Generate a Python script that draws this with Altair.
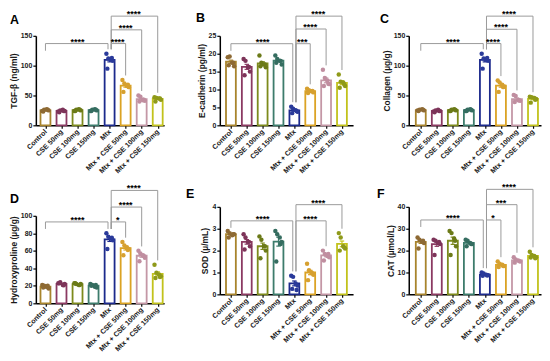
import altair as alt
import numpy as np
import pandas as pd

categories = ["Control", "CSE 50mg", "CSE 100mg", "CSE 150mg", "Mtx",
              "Mtx + CSE 50mg", "Mtx + CSE 100mg", "Mtx + CSE 150mg"]

# ---- values (6 animals per group) ----
tgf_beta = [
    [24, 26, 27, 25, 23, 26],
    [23, 25, 26, 24, 22, 24],
    [24, 26, 27, 25, 24, 26],
    [24, 26, 27, 25, 24, 26],
    [120, 112, 110, 108, 95, 113],
    [76, 70, 66, 64, 56, 68],
    [50, 48, 42, 41, 40, 43],
    [47, 46, 45, 43, 40, 45],
]
e_cadherin = [
    [19.0, 19.2, 17.5, 16.5, 16.8, 17.5],
    [18.5, 18.0, 16.2, 15.0, 14.0, 16.3],
    [19.5, 17.5, 17.0, 16.2, 16.5, 17.0],
    [19.5, 18.5, 18.0, 17.0, 17.5, 18.0],
    [5.2, 4.6, 4.2, 3.8, 3.4, 4.0],
    [10.2, 9.8, 9.5, 9.2, 9.0, 9.6],
    [15.5, 13.2, 12.5, 11.5, 11.0, 11.6],
    [14.2, 12.2, 12.0, 11.0, 10.5, 11.4],
]
collagen = [
    [25, 26, 27, 25, 24, 26],
    [23, 25, 26, 24, 22, 24],
    [24, 26, 27, 25, 24, 26],
    [24, 26, 27, 25, 24, 26],
    [120, 112, 110, 108, 95, 113],
    [75, 72, 68, 65, 56, 64],
    [51, 49, 42, 41, 39, 42],
    [48, 47, 46, 44, 38, 43],
]
hydroxyproline = [
    [21, 20, 18.5, 17, 18, 20],
    [23, 24, 21, 22, 23, 20.5],
    [23, 22, 21, 22, 23, 21],
    [22, 21, 19, 18, 20, 21],
    [80, 76, 74, 72, 62, 75],
    [70, 66, 64, 62, 55, 61],
    [60, 57, 55, 52, 48, 54],
    [44, 35, 33, 31, 29, 30],
]
sod = [
    [2.9, 2.8, 2.7, 2.75, 2.6, 2.75],
    [2.75, 2.6, 2.4, 2.2, 2.05, 2.4],
    [2.65, 2.5, 2.2, 2.0, 1.65, 2.2],
    [2.9, 2.75, 2.6, 2.4, 1.5, 2.3],
    [0.85, 0.8, 0.5, 0.4, 0.25, 0.2],
    [1.4, 1.1, 1.0, 0.9, 0.65, 0.95],
    [2.0, 1.85, 1.75, 1.7, 1.55, 1.85],
    [2.8, 2.6, 2.2, 2.1, 2.0, 2.15],
]
cat_activity = [
    [26, 25, 24, 23.5, 21, 24.5],
    [25, 24.5, 23.5, 23, 18, 24],
    [29, 28, 25.5, 22, 18, 24.5],
    [25, 24.5, 23.5, 23, 22, 23],
    [10, 9.5, 9, 8.8, 8.5, 8.6],
    [15, 14, 13.5, 13, 12.5, 13],
    [17, 16, 15.5, 15, 14.5, 15.2],
    [19.5, 18, 17.5, 17, 16.8, 16.5],
]

panel_letters = ["A", "B", "C", "D", "E", "F"]
y_titles = ["TGF-β (ng/ml)", "E-cadherin (pg/ml)", "Collagen (µg/g)",
            "Hydroxyproline (µg/g)", "SOD (µ/mL)", "CAT (µmol/L)"]
y_ticks = [[0, 50, 100, 150], [0, 5, 10, 15, 20, 25], [0, 50, 100, 150],
           [0, 20, 40, 60, 80, 100], [0, 1, 2, 3, 4], [0, 10, 20, 30, 40]]

# significance brackets: (group 1, group 2, bracket height, label)
brackets_a = [("Control", "Mtx", 137, "****"), ("Mtx", "Mtx + CSE 50mg", 137, "****"),
              ("Mtx", "Mtx + CSE 100mg", 160, "****"), ("Mtx", "Mtx + CSE 150mg", 183, "****")]
brackets_b = [("Control", "Mtx", 22.8, "****"), ("Mtx", "Mtx + CSE 50mg", 22.8, "***"),
              ("Mtx", "Mtx + CSE 100mg", 26.9, "****"), ("Mtx", "Mtx + CSE 150mg", 30.5, "****")]
brackets_c = [("Control", "Mtx", 137, "****"), ("Mtx", "Mtx + CSE 50mg", 137, "****"),
              ("Mtx", "Mtx + CSE 100mg", 161, "****"), ("Mtx", "Mtx + CSE 150mg", 183, "****")]
brackets_d = [("Control", "Mtx", 93, "****"), ("Mtx", "Mtx + CSE 50mg", 93, "*"),
              ("Mtx", "Mtx + CSE 100mg", 110, "****"), ("Mtx", "Mtx + CSE 150mg", 129, "****")]
brackets_e = [("Control", "Mtx", 3.36, "****"), ("Mtx", "Mtx + CSE 100mg", 3.36, "****"),
              ("Mtx", "Mtx + CSE 150mg", 4.1, "****")]
brackets_f = [("Control", "Mtx", 34, "****"), ("Mtx", "Mtx + CSE 50mg", 34, "*"),
              ("Mtx", "Mtx + CSE 100mg", 41, "***"), ("Mtx", "Mtx + CSE 150mg", 48, "****")]

# ---- styles / layout ----
bar_colors = ["#a8842c", "#8b3a62", "#7d8a1c", "#3d7c6c", "#1c2a8c",
              "#dba324", "#c497a6", "#c2c21c"]
point_colors = ["#8e6a34", "#7d3459", "#6b7a18", "#356d60", "#2a3a9a",
                "#d6a030", "#c08ea0", "#8f9a1a"]
FONT = "Liberation Sans"
BAR_HALF = 0.31
CAP_HALF = 0.14
JITTER = [-0.2, -0.08, 0.08, 0.2, -0.14, 0.14]
col_width = [129, 134, 133]
col_xdomain = [[-0.6, 7.4], [-0.7, 7.7], [-0.75, 7.5]]

label_expr = "[" + ",".join("'" + c + "'" for c in categories) + "][datum.value]"
stroke_scale = alt.Scale(domain=categories, range=bar_colors)
fill_scale = alt.Scale(domain=categories, range=point_colors)

panels = [
    dict(values=tgf_beta, brackets=brackets_a, axis_max=150, height=90, shift=0, dx=-26, dy=-12),
    dict(values=e_cadherin, brackets=brackets_b, axis_max=25, height=90, shift=0, dx=-24, dy=-14),
    dict(values=collagen, brackets=brackets_c, axis_max=150, height=90, shift=0, dx=-29, dy=-13),
    dict(values=hydroxyproline, brackets=brackets_d, axis_max=100, height=88, shift=9, dx=-26, dy=-4),
    dict(values=sod, brackets=brackets_e, axis_max=4, height=88, shift=0, dx=-34, dy=-9),
    dict(values=cat_activity, brackets=brackets_f, axis_max=40, height=88, shift=0, dx=-32, dy=-9),
]


def make_panel(k, p):
    vals = p["values"]
    amax = p["axis_max"]
    h, sh = p["height"], p["shift"]
    col = k % 3
    x_scale = alt.Scale(domain=col_xdomain[col], nice=False, zero=False)
    y_scale = alt.Scale(domain=[0, amax], nice=False, zero=False, range=[h + sh, sh])
    y_axis = alt.Axis(values=y_ticks[k], title=y_titles[k],
                      labelFontSize=7, labelPadding=1, titlePadding=2)
    x_axis = alt.Axis(values=list(range(len(categories))), labelExpr=label_expr,
                      labelAngle=-45, labelAlign="right", labelBaseline="middle",
                      labelOverlap=False, labelFlush=False, labelFontSize=7.1,
                      labelPadding=2, title=None, offset=sh)

    def X(f):
        return alt.X(f + ":Q", scale=x_scale, axis=x_axis)

    def Y(f):
        return alt.Y(f + ":Q", scale=y_scale, axis=y_axis)

    bar_rows, pt_rows = [], []
    for i, (c, v) in enumerate(zip(categories, vals)):
        arr = np.array(v, dtype=float)
        m = arr.mean()
        se = arr.std(ddof=1) / np.sqrt(len(arr))
        bar_rows.append(dict(cat=c, idx=i, lo=i - BAR_HALF, hi=i + BAR_HALF, mean=m, base=0.0,
                             elo=m - se, ehi=m + se, clo=i - CAP_HALF, chi=i + CAP_HALF))
        for j, val in enumerate(v):
            pt_rows.append(dict(cat=c, x=i + JITTER[j], value=val))
    bar_df = pd.DataFrame(bar_rows)
    pt_df = pd.DataFrame(pt_rows)

    segs, texts = [], []
    for a, b, lev, lab in p["brackets"]:
        ia, ib = categories.index(a), categories.index(b)
        xa = ia + (0.1 if a == "Mtx" else 0.0)
        xb = ib - (0.1 if b == "Mtx" else 0.0)
        ya = lev - 0.08 * amax if a == "Control" else max(vals[ia]) + 0.05 * amax
        yb = max(vals[ib]) + 0.05 * amax
        segs += [dict(x1=xa, x2=xb, y1=lev, y2=lev),
                 dict(x1=xa, x2=xa, y1=lev, y2=ya),
                 dict(x1=xb, x2=xb, y1=lev, y2=yb)]
        texts.append(dict(x=(ia + ib) / 2, y=lev, label=lab))
    seg_df = pd.DataFrame(segs)
    txt_df = pd.DataFrame(texts)

    stroke = alt.Stroke("cat:N", scale=stroke_scale, legend=None)

    bars = alt.Chart(bar_df).mark_bar(strokeWidth=1.8).encode(
        x=X("lo"), x2="hi", y=Y("mean"), y2="base", stroke=stroke,
        fill=alt.value("white"))
    whisk = alt.Chart(bar_df).mark_rule(strokeWidth=1.2).encode(
        x=X("idx"), y=Y("elo"), y2="ehi", stroke=stroke)
    cap_hi = alt.Chart(bar_df).mark_rule(strokeWidth=1.2).encode(
        x=X("clo"), x2="chi", y=Y("ehi"), stroke=stroke)
    cap_lo = alt.Chart(bar_df).mark_rule(strokeWidth=1.2).encode(
        x=X("clo"), x2="chi", y=Y("elo"), stroke=stroke)
    pts = alt.Chart(pt_df).mark_circle(size=20, opacity=1).encode(
        x=X("x"), y=Y("value"), color=alt.Color("cat:N", scale=fill_scale, legend=None))
    brk = alt.Chart(seg_df).mark_rule(color="#9a9a9a", strokeWidth=1).encode(
        x=X("x1"), x2="x2", y=Y("y1"), y2="y2")
    stars = alt.Chart(txt_df).mark_text(font=FONT, fontSize=9, fontWeight="bold",
                                        baseline="alphabetic", align="center",
                                        dy=1, color="black").encode(
        x=X("x"), y=Y("y"), text="label:N")
    letter = alt.Chart(pd.DataFrame({"t": [panel_letters[k]]})).mark_text(
        font=FONT, fontSize=12.5, fontWeight="bold", align="left",
        baseline="alphabetic", color="black").encode(
        text="t:N", x=alt.value(p["dx"]), y=alt.value(p["dy"]))

    return alt.layer(bars, whisk, cap_hi, cap_lo, pts, brk, stars, letter).properties(
        width=col_width[col], height=h)


charts = [make_panel(k, p) for k, p in enumerate(panels)]

chart = alt.concat(*charts, columns=3, spacing={"row": 82, "column": 56},
                   bounds="flush", padding=0, background="white").configure_view(
    stroke="transparent").configure_axis(
    labelFont=FONT, labelFontWeight="bold", labelColor="#1a1a1a",
    titleFont=FONT, titleFontSize=8.5, titleFontWeight="bold", titleColor="#1a1a1a",
    domainColor="black", domainWidth=1.5, tickColor="black", tickWidth=1.2,
    tickSize=3, grid=False)

chart.save("out.html", embed_options={"renderer": "svg", "actions": False})
